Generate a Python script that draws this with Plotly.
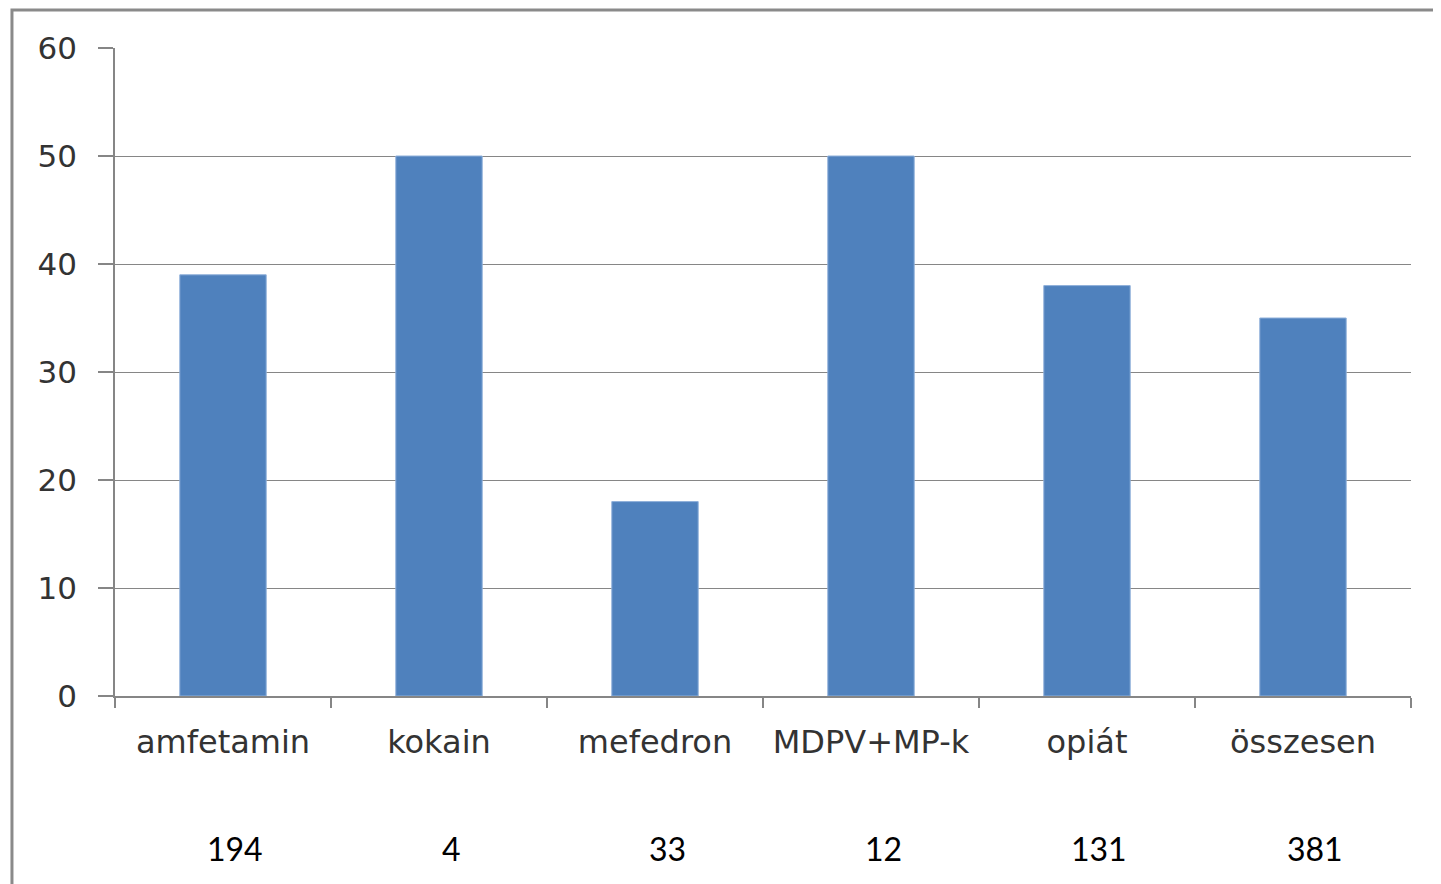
import plotly.graph_objects as go

categories = ["amfetamin", "kokain", "mefedron", "MDPV+MP-k", "opiát", "összesen"]
values = [39, 50, 18, 50, 38, 35]
counts = ["194", "4", "33", "12", "131", "381"]
y_ticks = [0, 10, 20, 30, 40, 50, 60]

fig = go.Figure()
fig.add_trace(go.Bar(
    x=categories, y=values, width=0.4,
    marker=dict(color="#4F81BD", line=dict(color="#8fb0da", width=1)),
    hoverinfo="x+y",
))

for c, n in zip(categories, counts):
    fig.add_annotation(x=c, xref="x", y=0, yref="paper", yshift=-152, xshift=12,
                       yanchor="middle", text=n, showarrow=False,
                       font=dict(family="Lato", size=32, color="#000000"))

fig.add_shape(type="rect", xref="paper", yref="paper",
              x0=-0.0795, x1=1.1, y0=-0.5, y1=1.0586,
              line=dict(color="#8a8a8a", width=3), fillcolor="rgba(0,0,0,0)", layer="below")

fig.update_layout(
    width=1441, height=884,
    margin=dict(l=107, r=38, t=40, b=196),
    paper_bgcolor="white", plot_bgcolor="white",
    showlegend=False, bargap=0.6,
    font=dict(family="DejaVu Sans", size=22, color="#333333"),
    xaxis=dict(showline=True, linecolor="#868686", linewidth=1.5,
               ticks="outside", tickson="boundaries", ticklen=10,
               tickcolor="#868686", tickwidth=1.5, showgrid=False,
               ticklabelstandoff=17,
               tickfont=dict(family="DejaVu Sans", size=32, color="#333333")),
    yaxis=dict(range=[0, 60], tickvals=y_ticks, showline=True, linecolor="#868686",
               linewidth=1.5, ticks="outside", ticklen=15, tickcolor="#868686",
               tickwidth=1.5, showgrid=True, gridcolor="#868686", gridwidth=1.2,
               zeroline=False, ticklabelstandoff=15,
               tickfont=dict(family="DejaVu Sans", size=31, color="#333333")),
)

fig.write_html("out.html")
